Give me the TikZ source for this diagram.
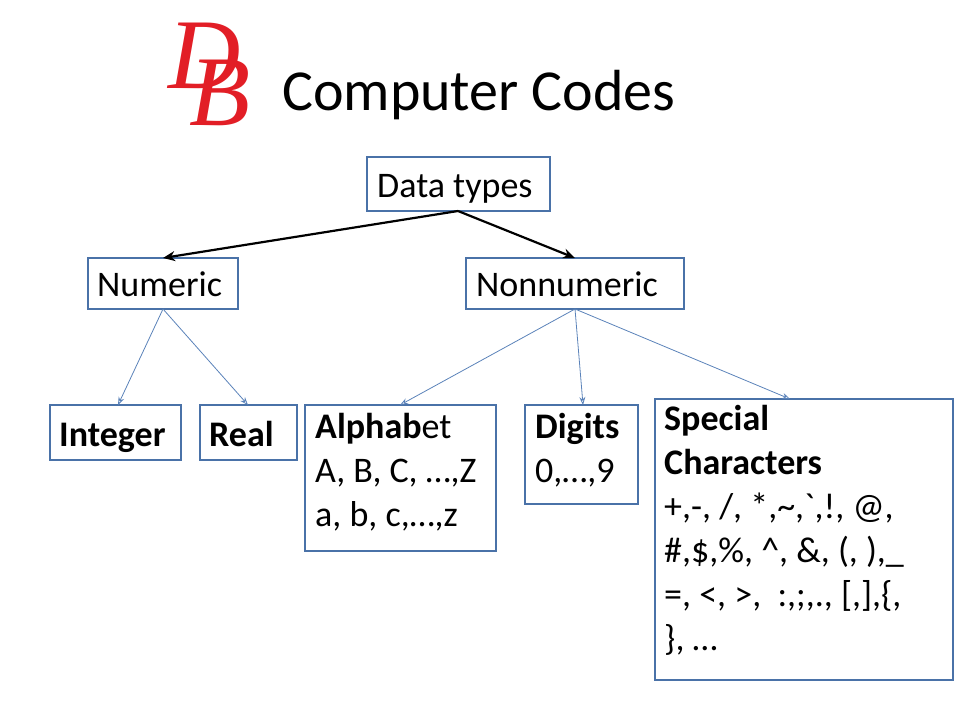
\documentclass[tikz,border=0pt]{standalone}
\usepackage{fontspec}
\setmainfont{Carlito}
\newfontfamily\logofont{Liberation Serif}
\newfontfamily\rawfont[Mapping=]{Carlito}
\usetikzlibrary{arrows.meta}
\definecolor{bx}{RGB}{74,114,168}
\definecolor{ln}{RGB}{90,130,185}
\definecolor{lg}{RGB}{226,30,38}
\tikzset{
  txt/.style={font=\fontsize{36}{44}\selectfont,align=left,anchor=base west,inner sep=0pt},
  thick arr/.style={-{Stealth[length=12pt,width=10pt]},line width=2.2pt,black},
  thin arr/.style={-{Stealth[length=8pt,width=6pt,open]},line width=0.8pt,ln}
}
\begin{document}
\begin{tikzpicture}[x=1pt,y=-1pt]
\useasboundingbox (0,0) rectangle (960,720);
% logo
\node[font=\logofont\itshape\fontsize{100}{100}\selectfont,text=lg,inner sep=0pt] (lD) at (205,56) {D};
\node[font=\logofont\itshape\fontsize{100}{100}\selectfont,text=lg,inner sep=0pt] (lB) at (220,93) {B};
\node[font=\fontsize{58}{70}\selectfont,anchor=base west,inner sep=0pt] (title) at (282,110) {Computer Codes};
% boxes
\draw[bx,line width=2.2pt] (367,157) rectangle (550,211);
\node[txt] (dt) at (377,197) {Data types};
\coordinate (dtb) at (458,211);
\draw[bx,line width=2.2pt] (88,258) rectangle (238,309);
\node[txt] (num) at (97,296) {Numeric};
\draw[bx,line width=2.2pt] (466,258) rectangle (684,309);
\node[txt] (non) at (476,296) {Nonnumeric};
\coordinate (numt) at (163,258); \coordinate (numb) at (163,309);
\coordinate (nont) at (575,258); \coordinate (nonb) at (575,309);
\draw[bx,line width=2.2pt] (50,405) rectangle (181,460);
\node[txt] (int) at (59,446) {\textbf{Integer}};
\draw[bx,line width=2.2pt] (200,405) rectangle (297,460);
\node[txt] (real) at (209,446) {\textbf{Real}};
\draw[bx,line width=2.2pt] (305,405) rectangle (496,551);
\node[txt,anchor=north west] (alp) at (315,413) {\textbf{Alphab}et\\A, B, C, …,Z\\a, b, c,…,z};
\draw[bx,line width=2.2pt] (525,405) rectangle (638,504);
\node[txt,anchor=north west] (dig) at (535,413) {\textbf{Digits}\\0,…,9};
\draw[bx,line width=2.2pt] (655,399) rectangle (953,680);
\node[txt,anchor=north west] (spec) at (664,405) {\textbf{Special}\\\textbf{Characters}\\+,-, /, *,\textasciitilde,{\rawfont\char"60},!, @,\\\#,\$,\%, \textasciicircum, \&, (, ),\_\\=, <, >,\ \ :,;,., [,],\{,\\\}, …};
% arrows
\draw[thick arr] (dtb) -- (numt);
\draw[thick arr] (dtb) -- (nont);
\draw[thin arr] (numb) -- (118,405);
\draw[thin arr] (numb) -- (248,405);
\draw[thin arr] (nonb) -- (400,405);
\draw[thin arr] (nonb) -- (583,405);
\draw[thin arr] (nonb) -- (790,399);
\end{tikzpicture}
\end{document}
